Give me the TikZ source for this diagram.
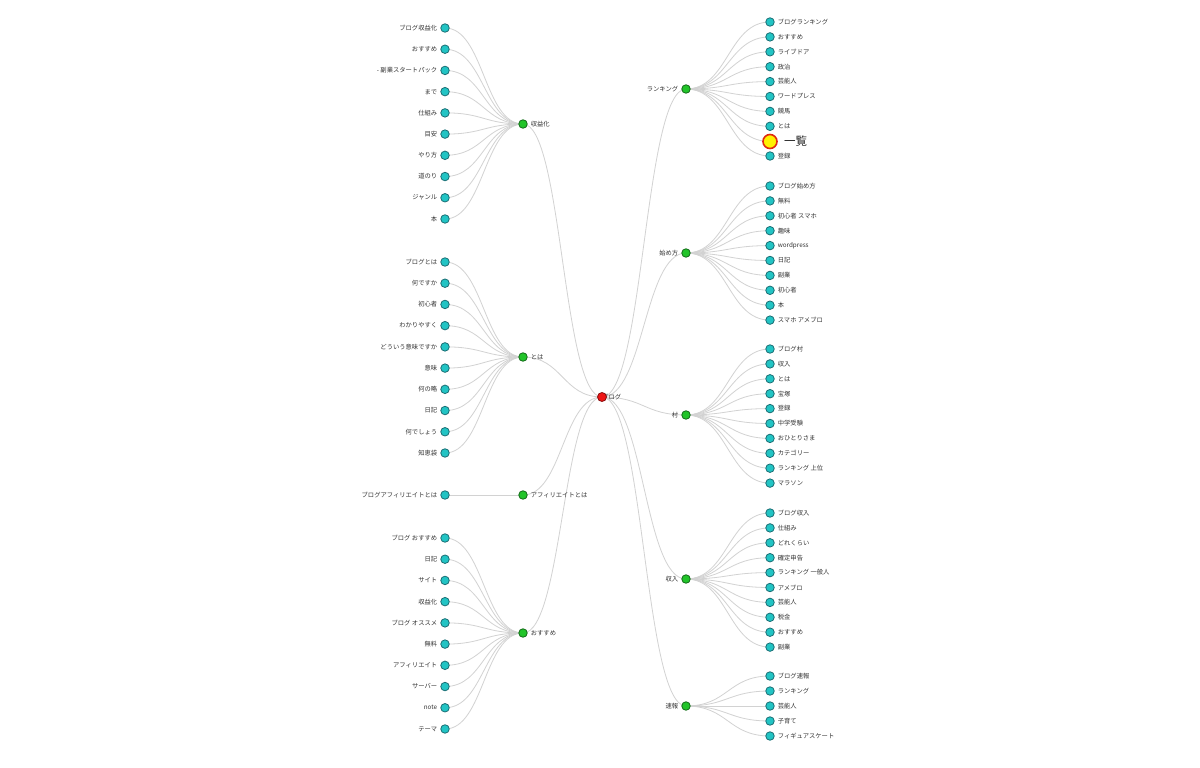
\documentclass[tikz,border=0pt]{standalone}
\usepackage{fontspec}
\newfontfamily\jp{Noto Sans CJK JP}
\usetikzlibrary{calc,backgrounds}
\definecolor{leafc}{HTML}{22C4C4}
\definecolor{leafd}{HTML}{1A6E74}
\definecolor{midc}{HTML}{22C42A}
\definecolor{midd}{HTML}{136B18}
\definecolor{rootc}{HTML}{EE1515}
\definecolor{rootd}{HTML}{8A1010}
\definecolor{bigd}{HTML}{E02A10}
\definecolor{linkc}{HTML}{D2D2D2}
\definecolor{txt}{HTML}{333333}
\tikzset{
  leaf/.style={circle,draw=leafd,fill=leafc,line width=0.8pt,inner sep=0pt,minimum size=8.5pt},
  mid/.style={circle,draw=midd,fill=midc,line width=0.8pt,inner sep=0pt,minimum size=8.5pt},
  rootnode/.style={circle,draw=rootd,fill=rootc,line width=0.8pt,inner sep=0pt,minimum size=9pt},
  bignode/.style={circle,draw=bigd,fill=yellow,line width=1.6pt,inner sep=0pt,minimum size=14pt},
  lbl/.style={font=\jp\fontsize{6.3}{7}\selectfont,text=txt,inner sep=1pt},
  biglbl/.style={font=\jp\fontsize{11.5}{13}\selectfont,text=black!85,inner sep=1pt},
  link/.style={draw=linkc,line width=0.8pt},
  every label/.style={label distance=2pt}
}
\begin{document}
\begin{tikzpicture}[x=1pt,y=-1pt]
\useasboundingbox (0,0) rectangle (1200,768);
% root
\node[lbl,anchor=west] (rootlbl) at (601,397.5) {ブログ};
\node[rootnode] (root) at (602,397) {};
% left middle nodes
\node[mid,label={[lbl]right:収益化}] (g1) at (523,124) {};
\node[mid,label={[lbl]right:とは}] (g2) at (523,357) {};
\node[mid,label={[lbl]right:アフィリエイトとは}] (g3) at (523,495) {};
\node[mid,label={[lbl]right:おすすめ}] (g4) at (523,633) {};
% right middle nodes
\node[mid,label={[lbl]left:ランキング}] (h1) at (686,89) {};
\node[mid,label={[lbl]left:始め方}] (h2) at (686,253) {};
\node[mid,label={[lbl]left:村}] (h3) at (686,415) {};
\node[mid,label={[lbl]left:収入}] (h4) at (686,579) {};
\node[mid,label={[lbl]left:速報}] (h5) at (686,706) {};
% left leaves
\foreach \t [count=\i] in {ブログ収益化,おすすめ,- 副業スタートパック,まで,仕組み,目安,やり方,道のり,ジャンル,本}
  {\node[leaf,label={[lbl]left:\t}] (a\i) at (445,{28+(\i-1)*21.22}) {};}
\foreach \t [count=\i] in {ブログとは,何ですか,初心者,わかりやすく,どういう意味ですか,意味,何の略,日記,何でしょう,知恵袋}
  {\node[leaf,label={[lbl]left:\t}] (b\i) at (445,{262+(\i-1)*21.22}) {};}
\node[leaf,label={[lbl]left:ブログアフィリエイトとは}] (c1) at (445,495) {};
\foreach \t [count=\i] in {ブログ おすすめ,日記,サイト,収益化,ブログ オススメ,無料,アフィリエイト,サーバー,note,テーマ}
  {\node[leaf,label={[lbl]left:\t}] (d\i) at (445,{538+(\i-1)*21.22}) {};}
% right leaves
\foreach \t [count=\i] in {ブログランキング,おすすめ,ライブドア,政治,芸能人,ワードプレス,競馬,とは}
  {\node[leaf,label={[lbl]right:\t}] (e\i) at (770,{22+(\i-1)*14.9}) {};}
\node[bignode,label={[biglbl,label distance=5pt]right:一覧}] (e9) at (770,141.5) {};
\node[leaf,label={[lbl]right:登録}] (e10) at (770,156) {};
\foreach \t [count=\i] in {ブログ始め方,無料,初心者 スマホ,趣味,wordpress,日記,副業,初心者,本,スマホ アメブロ}
  {\node[leaf,label={[lbl]right:\t}] (f\i) at (770,{186+(\i-1)*14.9}) {};}
\foreach \t [count=\i] in {ブログ村,収入,とは,宝塚,登録,中学受験,おひとりさま,カテゴリー,ランキング 上位,マラソン}
  {\node[leaf,label={[lbl]right:\t}] (k\i) at (770,{349+(\i-1)*14.9}) {};}
\foreach \t [count=\i] in {ブログ収入,仕組み,どれくらい,確定申告,ランキング 一般人,アメブロ,芸能人,税金,おすすめ,副業}
  {\node[leaf,label={[lbl]right:\t}] (m\i) at (770,{513+(\i-1)*14.9}) {};}
\foreach \t [count=\i] in {ブログ速報,ランキング,芸能人,子育て,フィギュアスケート}
  {\node[leaf,label={[lbl]right:\t}] (n\i) at (770,{676+(\i-1)*15}) {};}
% links
\begin{scope}[on background layer]
\fill[white] (0,0) rectangle (1200,768);
\foreach \gg in {g1,g2,g3,g4,h1,h2,h3,h4,h5}
  {\draw[link] let \p1=(root.center), \p2=(\gg.center) in (\p1) .. controls ({(\x1+\x2)/2},\y1) and ({(\x1+\x2)/2},\y2) .. (\p2);}
\foreach \pa/\ch in {g1/a,g2/b,g4/d,h1/e,h2/f,h3/k,h4/m}
  {\foreach \i in {1,...,10}
    {\draw[link] let \p1=(\pa.center), \p2=(\ch\i.center) in (\p1) .. controls ({(\x1+\x2)/2},\y1) and ({(\x1+\x2)/2},\y2) .. (\p2);}}
\foreach \i in {1,...,5}
  {\draw[link] let \p1=(h5.center), \p2=(n\i.center) in (\p1) .. controls ({(\x1+\x2)/2},\y1) and ({(\x1+\x2)/2},\y2) .. (\p2);}
\draw[link] (g3.center) -- (c1.center);
\end{scope}
\end{tikzpicture}
\end{document}
